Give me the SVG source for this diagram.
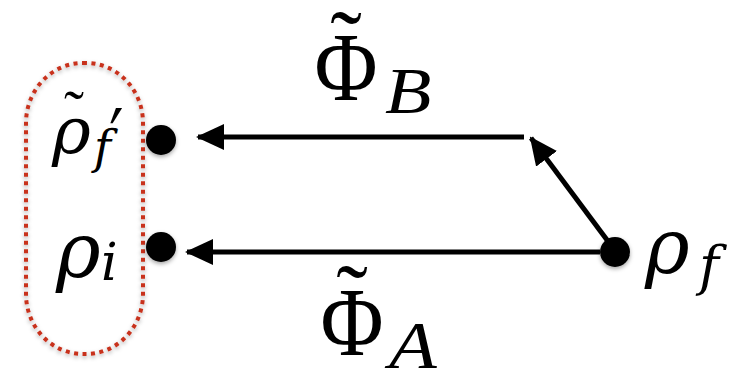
<svg xmlns="http://www.w3.org/2000/svg" width="730" height="373" viewBox="0 0 730 373">
  <defs>
    <style>
      .m { font-family: "Liberation Serif", "DejaVu Serif", serif; fill: #000; }
      .g { font-family: "DejaVu Serif", "Liberation Serif", serif; font-style: italic; fill: #000; }
      .it { font-style: italic; }
      .conn { stroke: #000; stroke-width: 5; fill: none; }
      .dot { fill: #000; filter: url(#sh); }
    </style>
    <marker id="ah" viewBox="0 0 28 26" refX="26" refY="13" markerWidth="28" markerHeight="26" markerUnits="userSpaceOnUse" orient="auto">
      <path d="M0,0 L28,13 L0,26 Z" fill="#000"/>
    </marker>
    <filter id="sh" x="-50%" y="-50%" width="200%" height="200%">
      <feDropShadow dx="0" dy="2" stdDeviation="2" flood-color="#000" flood-opacity="0.35"/>
    </filter>
  </defs>
  <rect width="730" height="373" fill="#fff"/>

  <g id="group-box">
    <rect x="26" y="63" width="117" height="291" rx="57" ry="60" fill="none" stroke="#c8321e" stroke-width="4" stroke-dasharray="4 4.5" filter="url(#sh)"/>
  </g>

  <g id="connectors">
    <line class="conn" x1="524" y1="137" x2="198" y2="137" marker-end="url(#ah)"/>
    <line class="conn" x1="600" y1="252" x2="187" y2="252" marker-end="url(#ah)"/>
    <line class="conn" x1="613" y1="248" x2="531" y2="138" marker-end="url(#ah)"/>
  </g>

  <g id="node-rho-f-prime">
    <circle class="dot" cx="161" cy="140" r="15"/>
    <text class="g" x="52" y="153" font-size="66">ρ</text>
    <text class="m" x="74" y="131" font-size="60" text-anchor="middle">˜</text>
    <text class="m" font-size="64" transform="translate(100,150) skewX(-15)">′</text>
    <text class="g" x="94" y="163" font-size="46">f</text>
  </g>

  <g id="node-rho-i">
    <circle class="dot" cx="161" cy="247" r="15"/>
    <text class="g" x="56" y="277" font-size="76">ρ</text>
    <text class="g" x="101" y="280" font-size="52">i</text>
  </g>

  <g id="node-rho-f">
    <circle class="dot" cx="615" cy="252" r="15"/>
    <text class="g" x="645" y="273" font-size="76">ρ</text>
    <text class="g" x="699" y="285" font-size="54">f</text>
  </g>

  <g id="label-phi-b">
    <text class="m" font-size="98" text-anchor="middle" transform="translate(346,100) scale(0.88,1)">Φ</text>
    <text class="m" x="346" y="76" font-size="95" text-anchor="middle">˜</text>
    <text class="m it" font-size="66" transform="translate(385,113) scale(1.15,1)">B</text>
  </g>

  <g id="label-phi-a">
    <text class="m" font-size="98" text-anchor="middle" transform="translate(352,355) scale(0.88,1)">Φ</text>
    <text class="m" x="352" y="330" font-size="95" text-anchor="middle">˜</text>
    <text class="m it" font-size="68" transform="translate(389,368) scale(1.15,1)">A</text>
  </g>
</svg>
